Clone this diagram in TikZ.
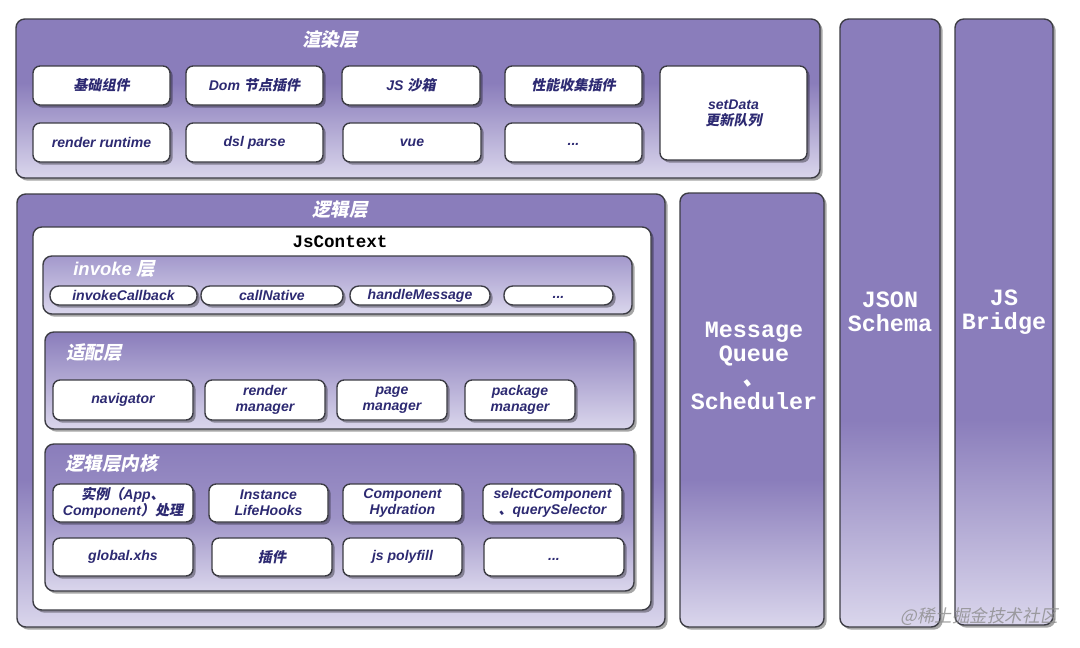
\documentclass[tikz,border=0pt]{standalone}
\usepackage{fontspec}
\setmainfont{Liberation Sans}
\setmonofont{Liberation Mono}
\newfontfamily\zhfont{Noto Sans CJK SC}[FakeSlant=0.2]
\usetikzlibrary{fit,shadows}

\definecolor{layerpur}{HTML}{8A7DBB}
\definecolor{layerlight}{HTML}{DAD6EC}
\definecolor{layermid}{HTML}{A399CC}
\definecolor{cardtext}{HTML}{2D2A72}
\definecolor{edge}{HTML}{3C3C44}

\pgfdeclareverticalshading{longfade}{100bp}{color(0bp)=(layerlight); color(25bp)=(layerlight); color(42bp)=(layerpur); color(100bp)=(layerpur)}
\pgfdeclareverticalshading{shortfade}{100bp}{color(0bp)=(layerlight); color(25bp)=(layerlight); color(55bp)=(layerpur); color(100bp)=(layerpur)}

\newcommand\zh[1]{{\zhfont #1}}
\newcommand\cardfont{\fontsize{8}{9}\selectfont\bfseries\itshape}
\newcommand\titlefont{\fontsize{10.5}{12}\selectfont\bfseries\itshape}
\newcommand\colfont{\fontsize{13.3}{13.6}\selectfont\ttfamily\bfseries}

\begin{document}
\begin{tikzpicture}[x=0.02cm, y=-0.02cm,
  layer/.style={draw=edge, line width=0.8pt, rounded corners=5pt, inner sep=0pt,
    drop shadow={shadow xshift=1.5pt, shadow yshift=-1.5pt, opacity=0.35, fill=black}},
  card/.style={layer, fill=white, rounded corners=4pt, align=center, font=\cardfont, text=cardtext},
  pill/.style={card, rounded corners=5pt, minimum height=0.38cm},
  title/.style={font=\titlefont, text=white, inner sep=0pt},
  coltext/.style={font=\colfont, text=white, align=center, inner sep=0pt}]
  \fill[white] (0,0) rectangle (1080,647);
  \useasboundingbox (0,0) rectangle (1080,647);

  % render layer
  \node[layer, shade, shading=shortfade, fit={(16,19) (820,178)}] (render) {};
  \node[title] (renderT) at (330,40) {\zh{渲染层}};
  \foreach \n/\xa/\xb/\t in {base/33/170/{\zh{基础组件}}, dom/186/323/{Dom \zh{节点插件}},
      sandbox/342/480/{JS \zh{沙箱}}, perf/505/642/{\zh{性能收集插件}}}
    \node[card, minimum width={(\xb-\xa)*0.02cm}, minimum height=0.78cm] (\n) at ({(\xa+\xb)/2},85.5) {\t};
  \foreach \n/\xa/\xb/\t in {runtime/33/170/{render runtime}, dsl/186/323/{dsl parse},
      vue/343/481/{vue}, rmore/505/642/{\strut...}}
    \node[card, minimum width={(\xb-\xa)*0.02cm}, minimum height=0.78cm] (\n) at ({(\xa+\xb)/2},142.5) {\t};
  \node[card, minimum width=2.94cm, minimum height=1.88cm] (setdata) at (733.5,113) {setData\\\zh{更新队列}};

  % side columns
  \node[layer, shade, shading=longfade, fit={(840,19) (940,627)}] (json) {};
  \node[layer, shade, shading=longfade, fit={(955,19) (1053,625)}] (bridge) {};
  \node[layer, shade, shading=longfade, fit={(680,193) (824,627)}] (mq) {};
  \node[coltext] (jsonT) at (890,312) {JSON\\Schema};
  \node[coltext] (bridgeT) at (1004,312) {JS\\Bridge};
  \node[coltext] (mqT) at (754,366) {Message\\Queue\\\zh{、}\\Scheduler};

  % logic layer
  \node[layer, shade, shading=longfade, fit={(17,194) (665,627)}] (logic) {};
  \node[title] (logicT) at (340,210) {\zh{逻辑层}};
  \node[layer, fill=white, fit={(33,227) (651,610)}] (ctx) {};
  \node[font=\fontsize{10}{12}\selectfont\ttfamily\bfseries, inner sep=0pt] (ctxT) at (340,242) {JsContext};

  % invoke layer
  \node[layer, top color=layermid, bottom color=layerlight, fit={(43,256) (632,314)}] (invoke) {};
  \node[title, anchor=west] (invokeT) at (73,269) {invoke \zh{层}};
  \foreach \n/\xa/\xb/\t in {cb/50/197/{invokeCallback}, native/201/343/{callNative},
      handle/350/490/{handleMessage}, imore/504/613/{\strut...}}
    \node[pill, minimum width={(\xb-\xa)*0.02cm}] (\n) at ({(\xa+\xb)/2},295.5) {\t};

  % adapter layer
  \node[layer, top color=layerpur, bottom color=layerlight, fit={(45,332) (634,429)}] (adapt) {};
  \node[title, anchor=west] (adaptT) at (66,353) {\zh{适配层}};
  \foreach \n/\xa/\xb/\t in {nav/53/193/{navigator}, rmgr/205/325/{render\\manager},
      pmgr/337/447/{page\\manager}, pkg/465/575/{package\\manager}}
    \node[card, minimum width={(\xb-\xa)*0.02cm}, minimum height=0.8cm] (\n) at ({(\xa+\xb)/2},400) {\t};

  % logic core
  \node[layer, top color=layerpur, bottom color=layerlight, middle color=layerpur!75!layerlight,
    fit={(45,444) (634,591)}] (core) {};
  \node[title, anchor=west] (coreT) at (65,463) {\zh{逻辑层内核}};
  \foreach \n/\xa/\xb/\t in {inst/53/193/{\zh{实例（}App\zh{、}\\Component\zh{）处理}},
      hooks/209/328/{Instance\\LifeHooks}, hydr/343/462/{Component\\Hydration},
      sel/483/622/{selectComponent\\\zh{、}querySelector}}
    \node[card, minimum width={(\xb-\xa)*0.02cm}, minimum height=0.76cm] (\n) at ({(\xa+\xb)/2},503) {\t};
  \foreach \n/\xa/\xb/\t in {glob/53/193/{global.xhs}, plug/212/332/{\zh{插件}},
      poly/343/462/{js polyfill}, cmore/484/624/{\strut...}}
    \node[card, minimum width={(\xb-\xa)*0.02cm}, minimum height=0.76cm] (\n) at ({(\xa+\xb)/2},557) {\t};

  \node[font=\zhfont\fontsize{10}{12}\selectfont, text=black!45, text opacity=0.8,
    anchor=east, inner sep=0pt] (mark) at (1058,617) {@稀土掘金技术社区};
\end{tikzpicture}
\end{document}
